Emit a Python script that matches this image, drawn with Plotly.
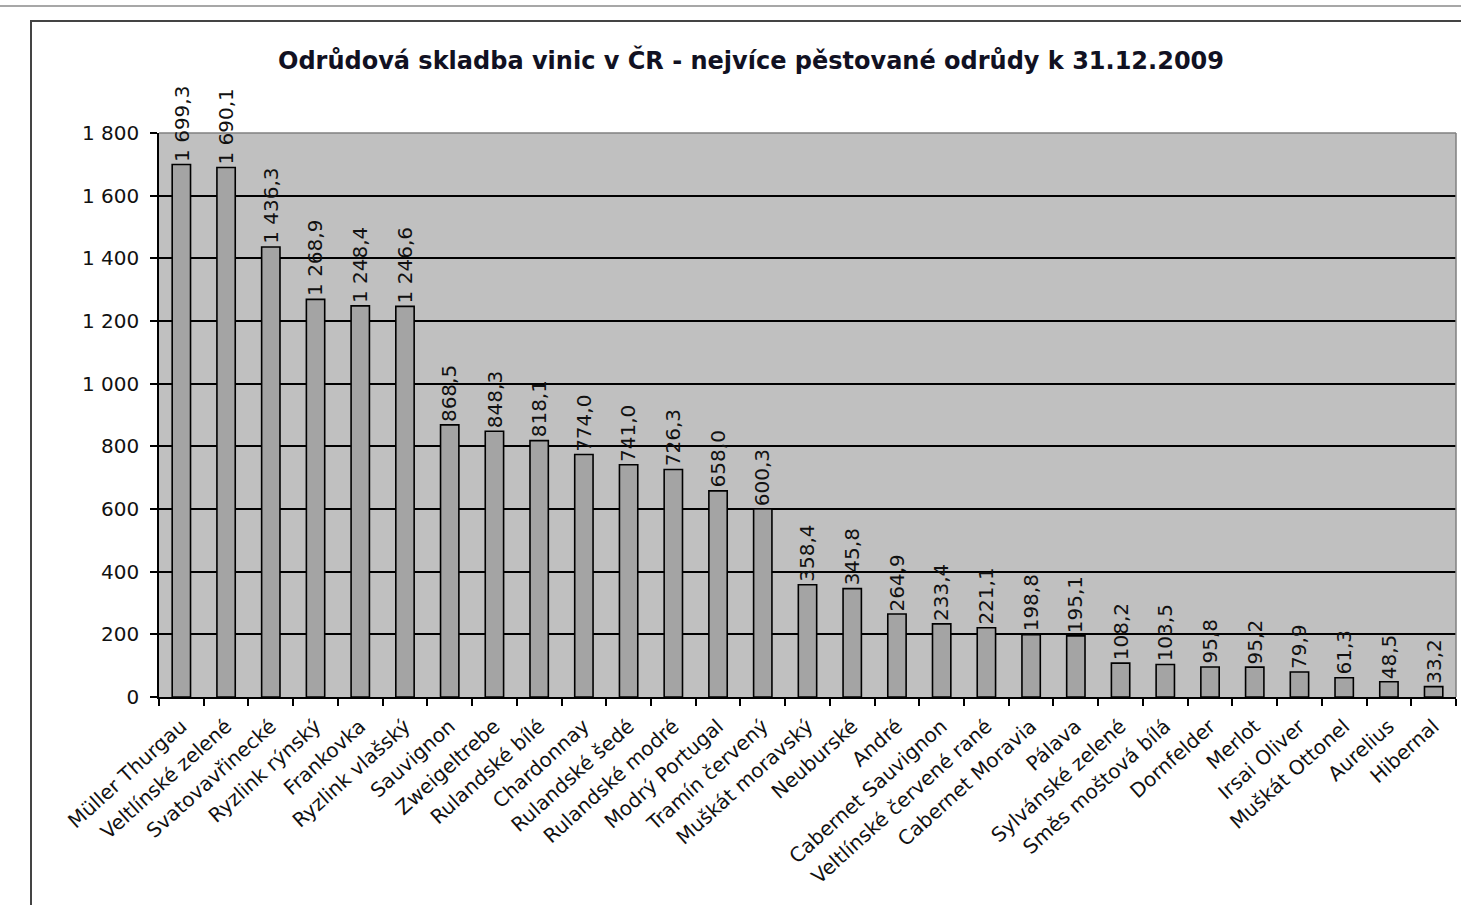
import plotly.graph_objects as go

categories = [
    "Müller Thurgau", "Veltlínské zelené", "Svatovavřinecké", "Ryzlink rýnský",
    "Frankovka", "Ryzlink vlašský", "Sauvignon", "Zweigeltrebe", "Rulandské bílé",
    "Chardonnay", "Rulandské šedé", "Rulandské modré", "Modrý Portugal",
    "Tramín červený", "Muškát moravský", "Neuburské", "André", "Cabernet Sauvignon",
    "Veltlínské červené rané", "Cabernet Moravia", "Pálava", "Sylvánské zelené",
    "Směs moštová bílá", "Dornfelder", "Merlot", "Irsai Oliver", "Muškát Ottonel",
    "Aurelius", "Hibernal",
]
values = [
    1699.3, 1690.1, 1436.3, 1268.9, 1248.4, 1246.6, 868.5, 848.3, 818.1,
    774.0, 741.0, 726.3, 658.0, 600.3, 358.4, 345.8, 264.9, 233.4,
    221.1, 198.8, 195.1, 108.2, 103.5, 95.8, 95.2, 79.9, 61.3,
    48.5, 33.2,
]
y_ticks = [0, 200, 400, 600, 800, 1000, 1200, 1400, 1600, 1800]
title_text = "Odrůdová skladba vinic v ČR - nejvíce pěstované odrůdy k 31.12.2009"


def fmt(v):
    s = f"{v:,.1f}"
    return s.replace(",", " ").replace(".", ",")


FONT = "DejaVu Sans"
W, H = 1461, 905
L, R, T, B = 159, 5, 133, 208
PW = W - L - R
PH = H - T - B


def px(x):
    return (x - L) / PW


def py(y):
    return (H - B - y) / PH


fig = go.Figure()
fig.add_trace(go.Bar(
    x=categories, y=values,
    marker=dict(color="#a4a4a4", line=dict(color="#000000", width=1.6)),
    hoverinfo="x+y",
))

annotations = []
for c, v in zip(categories, values):
    annotations.append(dict(
        x=c, y=v, xref="x", yref="y", text=fmt(v), textangle=-90,
        showarrow=False, xanchor="center", yanchor="bottom", yshift=1,
        font=dict(family=FONT, size=20, color="#111111"),
    ))

shapes = [
    dict(type="line", xref="paper", yref="paper", x0=px(0), x1=px(W),
         y0=py(6), y1=py(6), line=dict(color="#8a8a8a", width=1.5), layer="below"),
    dict(type="rect", xref="paper", yref="paper", x0=px(31), x1=px(W + 20),
         y0=py(H + 50), y1=py(21), line=dict(color="#444444", width=2), layer="below"),
    dict(type="line", xref="paper", yref="paper", x0=1, x1=1, y0=0, y1=1,
         line=dict(color="#808080", width=1.5)),
    dict(type="line", xref="paper", yref="paper", x0=0, x1=1, y0=1, y1=1,
         line=dict(color="#808080", width=1.5)),
]

fig.update_layout(
    width=W, height=H,
    margin=dict(l=L, r=R, t=T, b=B),
    paper_bgcolor="white",
    plot_bgcolor="#c0c0c0",
    separators=", ",
    bargap=0.59,
    showlegend=False,
    font=dict(family=FONT, color="#111111"),
    title=dict(text=title_text, xref="container", x=751 / W, xanchor="center",
               yref="container", y=1 - 61 / H, yanchor="middle",
               font=dict(family=FONT, size=24, color="#111122", weight="bold")),
    xaxis=dict(
        type="category", tickangle=-42, tickson="boundaries",
        ticks="outside", ticklen=7, tickcolor="#000", tickwidth=1.5,
        showline=True, linecolor="#000", linewidth=1.5,
        showgrid=False,
        ticklabelstandoff=8,
        tickfont=dict(family=FONT, size=20, color="#111111"),
        range=[-0.5, len(categories) - 0.5],
    ),
    yaxis=dict(
        range=[0, 1800], tickvals=y_ticks, tickformat=",d",
        ticks="outside", ticklen=7, tickcolor="#000", tickwidth=1.5,
        showline=True, linecolor="#000", linewidth=1.5,
        showgrid=True, gridcolor="#000", gridwidth=1.5,
        zeroline=False,
        ticklabelstandoff=7,
        tickfont=dict(family=FONT, size=20, color="#111111"),
    ),
    annotations=annotations,
    shapes=shapes,
)

fig.write_html("out.html")
